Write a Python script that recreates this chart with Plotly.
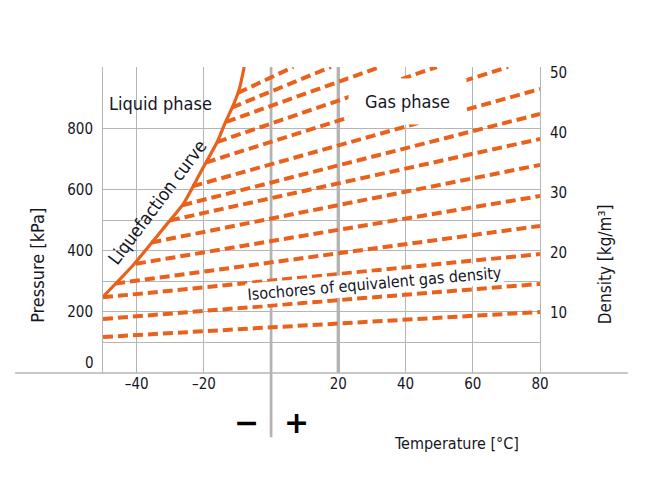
import plotly.graph_objects as go

ORANGE = '#E9611B'
GRID = '#b5b5b5'
TXT = '#16161f'
FONT = 'Liberation Sans Narrow, DejaVu Sans Condensed, Arial Narrow, sans-serif'

# axis ranges: temperature [degC], pressure [kPa], density [kg/m3]
t_range = [-50, 80]
p_range = [0, 1003]
d_range = [0, 51]

# liquefaction curve
curve_t = [-50, -41, -31, -26, -21, -16, -13.7, -11.2, -9.4, -8]
curve_p = [250, 354, 488, 556, 657, 758, 819, 879, 933, 1003]

# isochores, start and end of each dashed line
iso_t0 = [-50, -50, -50, -46.4, -40.2, -35.6, -30.1, -26.4, -23.4, -19.4, -16.1, -13.4, -11.7, -9.9]
iso_p0 = [118, 177, 248, 293, 358, 428, 500, 550, 612, 690, 757, 823, 870, 918]
iso_t1 = [80, 80, 80, 80, 80, 80, 80, 80, 80, 70.5, 49.3, 32.4, 17.8, 6.6]
iso_p1 = [200, 292, 390, 482, 580, 682, 767, 849, 931, 1003, 1003, 1003, 1003, 1003]

# ticks and gridlines
x_ticks = [-40, -20, 20, 40, 60, 80]
x_text = ['–40', '–20', '20', '40', '60', '80']
p_grid = [100, 200, 300, 400, 500, 600, 800]
p_text = ['', '200', '', '400', '', '600', '800']
d_ticks = [10, 20, 30, 40, 50]

fig = go.Figure()

for i in range(len(iso_t0)):
    fig.add_trace(go.Scatter(x=[iso_t0[i], iso_t1[i]], y=[iso_p0[i], iso_p1[i]], mode='lines',
                             line=dict(color=ORANGE, width=4, dash='10px,5px'),
                             showlegend=False, hoverinfo='skip'))

fig.add_trace(go.Scatter(x=curve_t, y=curve_p, mode='lines',
                         line=dict(color=ORANGE, width=3.2, shape='spline', smoothing=0.6),
                         showlegend=False, hoverinfo='skip'))

# empty trace so the density axis gets drawn
fig.add_trace(go.Scatter(x=[], y=[], yaxis='y2', showlegend=False))

tick_font = dict(family=FONT, size=15, color=TXT)

# page body adds 8px, so the figure is 8px smaller on each axis
fig.update_layout(
    width=638, height=480,
    margin=dict(l=95, r=106, t=59, b=115),
    paper_bgcolor='white', plot_bgcolor='white',
    font=dict(family=FONT, color=TXT),
    xaxis=dict(range=t_range, tickvals=x_ticks, ticktext=x_text, showgrid=True,
               gridcolor=GRID, gridwidth=1, zeroline=False, showline=False,
               ticks='', tickfont=tick_font),
    yaxis=dict(range=p_range, tickvals=p_grid, ticktext=p_text, showgrid=True,
               gridcolor=GRID, gridwidth=1, zeroline=False, showline=True,
               linecolor=GRID, linewidth=1, ticks='', tickfont=tick_font,
               ticklabelstandoff=6),
    yaxis2=dict(range=d_range, tickvals=d_ticks, overlaying='y', side='right',
                showgrid=False, zeroline=False, showline=True, linecolor=GRID,
                linewidth=1, ticks='', tickfont=tick_font, ticklabelstandoff=6),
)

# zero and room-temperature lines
x0_paper = (0 - t_range[0]) / (t_range[1] - t_range[0])
fig.add_shape(type='line', xref='paper', yref='paper', x0=x0_paper, x1=x0_paper, y0=-0.21, y1=1,
              line=dict(color='#b3b3b3', width=2.7), layer='below')
fig.add_shape(type='line', xref='x', yref='y', x0=20, x1=20, y0=p_range[0], y1=p_range[1],
              line=dict(color='#b3b3b3', width=3.4), layer='below')
# long base line
fig.add_shape(type='line', xref='paper', yref='paper', x0=-0.201, x1=1.201, y0=0, y1=0,
              line=dict(color=GRID, width=1.3))

txt18 = dict(family=FONT, size=18, color=TXT)
ann = []
ann.append(dict(text='0', xref='paper', yref='y', x=0, y=0, xanchor='right', yanchor='middle',
                xshift=-7, yshift=10, showarrow=False, font=tick_font))
ann.append(dict(text='Liquid phase', x=-33, y=882, showarrow=False, font=txt18))
ann.append(dict(text='Gas phase', x=40.7, y=890, showarrow=False, bgcolor='white',
                width=115, height=43, font=txt18))
ann.append(dict(text='Liquefaction curve', x=-34, y=560, textangle=-53, showarrow=False,
                font=txt18))
ann.append(dict(text='Isochores of equivalent gas density', x=30.9, y=295, textangle=-5,
                showarrow=False, bgcolor='white', borderpad=1,
                font=dict(family=FONT, size=16, color=TXT)))
ann.append(dict(text='Pressure [kPa]', xref='paper', yref='paper', x=-0.149, y=0.353,
                xanchor='center', yanchor='middle', textangle=-90, showarrow=False, font=txt18))
ann.append(dict(text='Density [kg/m³]', xref='paper', yref='paper', x=1.149, y=0.356,
                xanchor='center', yanchor='middle', textangle=-90, showarrow=False,
                font=dict(family=FONT, size=17, color=TXT)))
ann.append(dict(text='Temperature [°C]', xref='paper', yref='paper', x=0.808, y=-0.232,
                xanchor='center', yanchor='middle', showarrow=False,
                font=dict(family=FONT, size=16, color=TXT)))
sign_font = dict(family='DejaVu Sans', size=30, color='black', weight='bold')
ann.append(dict(text='−', xref='paper', yref='paper', x=0.328, y=-0.163,
                xanchor='center', yanchor='middle', showarrow=False, font=sign_font))
ann.append(dict(text='+', xref='paper', yref='paper', x=0.443, y=-0.163,
                xanchor='center', yanchor='middle', showarrow=False, font=sign_font))
fig.update_layout(annotations=ann)

fig.write_html('out.html')
